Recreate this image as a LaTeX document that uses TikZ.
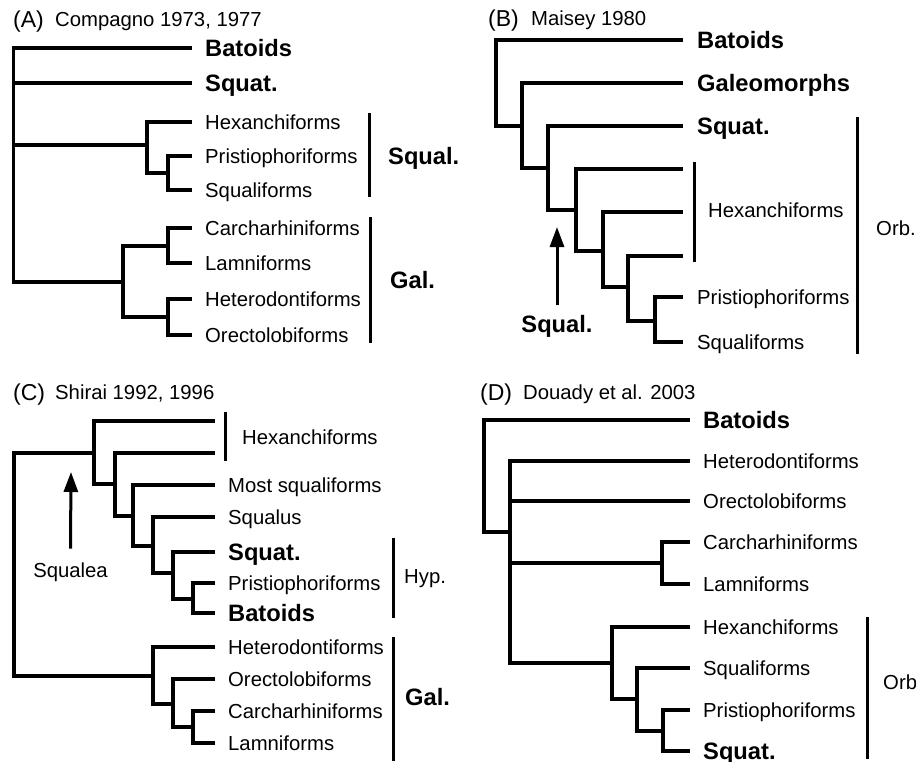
\documentclass[tikz,border=0pt]{standalone}
\usepackage{fontspec}
\setmainfont{Liberation Sans}
\usetikzlibrary{arrows.meta}
\newcommand\regf{\fontsize{20.3}{24}\selectfont}
\newcommand\bldf{\fontsize{23.7}{28}\selectfont\bfseries}
\newcommand\letf{\fontsize{23}{28}\selectfont}
\tikzset{
 tr/.style={line width=3.2pt},
 trc/.style={line width=4pt},
 bar/.style={line width=3pt},
 lab/.style={font=\regf, anchor=west, inner xsep=13pt, inner ysep=0pt, text height=14.5pt, text depth=0pt},
 blab/.style={font=\bldf, anchor=west, inner xsep=13pt, inner ysep=0pt, text height=17pt, text depth=0pt},
 txt/.style={font=\regf, anchor=west, inner sep=0pt, text height=14.5pt, text depth=0pt},
 btxt/.style={font=\bldf, anchor=west, inner sep=0pt, text height=17pt, text depth=0pt},
 ttl/.style={font=\letf, anchor=west, inner sep=0pt, text height=16.5pt, text depth=0pt},
 arr/.style={line width=3pt, -{Triangle[length=20pt,width=14pt]}},
}
\begin{document}
\begin{tikzpicture}[x=1pt,y=-1pt]
\useasboundingbox (0,0) rectangle (916,761);
% ---------------- Panel A ----------------
\node[ttl] (Alet) at (13,19) {(A)};
\node[txt] (Attl) at (55,19) {Compagno 1973, 1977};
\node[blab] (Abat) at (192,48) {Batoids};
\node[blab] (Asqt) at (192,83) {Squat.};
\node[lab] (Ahex) at (192,122) {Hexanchiforms};
\node[lab] (Apri) at (192,156) {Pristiophoriforms};
\node[lab] (Asql) at (192,190) {Squaliforms};
\node[lab] (Acar) at (192,228) {Carcharhiniforms};
\node[lab] (Alam) at (192,263) {Lamniforms};
\node[lab] (Ahet) at (192,299) {Heterodontiforms};
\node[lab] (Aore) at (192,335) {Orectolobiforms};
\coordinate (Ar) at (13.5,150);
\coordinate (Asq) at (147,145);
\coordinate (Aps) at (168,173);
\coordinate (Ag) at (123,282);
\coordinate (Ag1) at (168,246);
\coordinate (Ag2) at (168,317);
\draw[tr] (Ar) |- (Abat.west) (Ar) |- (Asqt.west) (Ar) |- (Asq) (Ar) |- (Ag)
  (Asq) |- (Ahex.west) (Asq) |- (Aps) (Aps) |- (Apri.west) (Aps) |- (Asql.west)
  (Ag) |- (Ag1) (Ag) |- (Ag2) (Ag1) |- (Acar.west) (Ag1) |- (Alam.west)
  (Ag2) |- (Ahet.west) (Ag2) |- (Aore.west);
\coordinate (Ab1t) at (369,113); \coordinate (Ab1b) at (369,197);
\draw[bar] (Ab1t) -- (Ab1b);
\node[btxt] (Asqual) at (388,156) {Squal.};
\coordinate (Ab2t) at (370,217); \coordinate (Ab2b) at (370,343);
\draw[bar] (Ab2t) -- (Ab2b);
\node[btxt] (Agal) at (390,280) {Gal.};
% ---------------- Panel B ----------------
\node[ttl] (Blet) at (488,18) {(B)};
\node[txt] (Bttl) at (531,18) {Maisey 1980};
\node[blab, inner xsep=14pt] (Bbat) at (683,40) {Batoids};
\node[blab, inner xsep=14pt] (Bgal) at (683,83) {Galeomorphs};
\node[blab, inner xsep=14pt] (Bsqt) at (683,126) {Squat.};
\coordinate (Bh1) at (683,169);
\coordinate (Bh2) at (683,212);
\coordinate (Bh3) at (683,256);
\node[lab, inner xsep=14pt] (Bpri) at (683,297) {Pristiophoriforms};
\node[lab, inner xsep=14pt] (Bsql) at (683,342) {Squaliforms};
\coordinate (Br) at (496,80);
\coordinate (B1) at (522,126);
\coordinate (B2) at (548,168);
\coordinate (B3) at (576,210);
\coordinate (B4) at (603,251);
\coordinate (B5) at (628,287);
\coordinate (B6) at (655,321);
\draw[tr] (Br) |- (Bbat.west) (Br) |- (B1) (B1) |- (Bgal.west) (B1) |- (B2)
  (B2) |- (Bsqt.west) (B2) |- (B3) (B3) |- (Bh1) (B3) |- (B4)
  (B4) |- (Bh2) (B4) |- (B5) (B5) |- (Bh3) (B5) |- (B6)
  (B6) |- (Bpri.west) (B6) |- (Bsql.west);
\coordinate (Bb1t) at (694,162); \coordinate (Bb1b) at (694,262);
\draw[bar] (Bb1t) -- (Bb1b);
\node[txt] (Bhex) at (708,210) {Hexanchiforms};
\coordinate (Bb2t) at (857,117); \coordinate (Bb2b) at (857,354);
\draw[bar] (Bb2t) -- (Bb2b);
\node[txt] (Borb) at (876,228) {Orb.};
\node[btxt, anchor=center] (Bsqual) at (557,324) {Squal.};
\coordinate (Barrt) at (557,227);
\draw[arr] (Bsqual.north) ++(0,-10) -- (Barrt);
% ---------------- Panel C ----------------
\node[ttl] (Clet) at (13,392) {(C)};
\node[txt] (Cttl) at (55,392) {Shirai 1992, 1996};
\coordinate (Ch1) at (215,421);
\coordinate (Ch2) at (215,453);
\node[lab] (Cmost) at (215,485) {Most squaliforms};
\node[lab] (Csqs) at (215,517) {Squalus};
\node[blab] (Csqt) at (215,552) {Squat.};
\node[lab] (Cpri) at (215,583) {Pristiophoriforms};
\node[blab] (Cbat) at (215,613) {Batoids};
\node[lab] (Chet) at (215,647) {Heterodontiforms};
\node[lab] (Core) at (215,679) {Orectolobiforms};
\node[lab] (Ccar) at (215,711) {Carcharhiniforms};
\node[lab] (Clam) at (215,743) {Lamniforms};
\coordinate (Cr) at (14,560);
\coordinate (C1) at (94,453);
\coordinate (C2) at (115,484);
\coordinate (C3) at (133,516);
\coordinate (C4) at (153,546);
\coordinate (C5) at (173,573);
\coordinate (C6) at (193,599);
\coordinate (Cg) at (153,676);
\coordinate (Cg1) at (173,704);
\coordinate (Cg2) at (193,727);
\draw[trc] (Cr) |- (C1) (Cr) |- (Cg)
  (C1) |- (Ch1) (C1) |- (C2) (C2) |- (Ch2) (C2) |- (C3)
  (C3) |- (Cmost.west) (C3) |- (C4) (C4) |- (Csqs.west) (C4) |- (C5)
  (C5) |- (Csqt.west) (C5) |- (C6) (C6) |- (Cpri.west) (C6) |- (Cbat.west)
  (Cg) |- (Chet.west) (Cg) |- (Cg1) (Cg1) |- (Core.west) (Cg1) |- (Cg2)
  (Cg2) |- (Ccar.west) (Cg2) |- (Clam.west);
\coordinate (Cb1t) at (225,412); \coordinate (Cb1b) at (225,461);
\draw[bar] (Cb1t) -- (Cb1b);
\node[txt] (Chex) at (242,437) {Hexanchiforms};
\coordinate (Cb2t) at (393,538); \coordinate (Cb2b) at (393,618);
\draw[bar] (Cb2t) -- (Cb2b);
\node[txt] (Chyp) at (404,576) {Hyp.};
\coordinate (Cb3t) at (393,637); \coordinate (Cb3b) at (393,761);
\draw[bar] (Cb3t) -- (Cb3b);
\node[btxt] (Cgal) at (405,697) {Gal.};
\node[txt, anchor=center] (Csqa) at (70.5,570) {Squalea};
\coordinate (Carrt) at (71,472);
\draw[arr] (Csqa.north) ++(0,-14) -- (Carrt);
% ---------------- Panel D ----------------
\node[ttl] (Dlet) at (480,392) {(D)};
\node[txt] (Dttl) at (523,392) {Douady et al. 2003};
\node[blab] (Dbat) at (690,420) {Batoids};
\node[lab] (Dhet) at (690,461) {Heterodontiforms};
\node[lab] (Dore) at (690,501) {Orectolobiforms};
\node[lab] (Dcar) at (690,542) {Carcharhiniforms};
\node[lab] (Dlam) at (690,584) {Lamniforms};
\node[lab] (Dhex) at (690,627) {Hexanchiforms};
\node[lab] (Dsql) at (690,668) {Squaliforms};
\node[lab] (Dpri) at (690,710) {Pristiophoriforms};
\node[blab] (Dsqt) at (690,751) {Squat.};
\coordinate (Dr) at (484,480);
\coordinate (D1) at (510,532);
\coordinate (Dc) at (662,563);
\coordinate (D2) at (612,663);
\coordinate (D3) at (637,699);
\coordinate (D4) at (663,731);
\draw[tr] (Dr) |- (Dbat.west) (Dr) |- (D1)
  (D1) |- (Dhet.west) (D1) |- (Dore.west) (D1) |- (Dc) (D1) |- (D2)
  (Dc) |- (Dcar.west) (Dc) |- (Dlam.west)
  (D2) |- (Dhex.west) (D2) |- (D3) (D3) |- (Dsql.west) (D3) |- (D4)
  (D4) |- (Dpri.west) (D4) |- (Dsqt.west);
\coordinate (Db1t) at (867,617); \coordinate (Db1b) at (867,759);
\draw[bar] (Db1t) -- (Db1b);
\node[txt] (Dorb) at (883,682) {Orb};
\end{tikzpicture}
\end{document}
